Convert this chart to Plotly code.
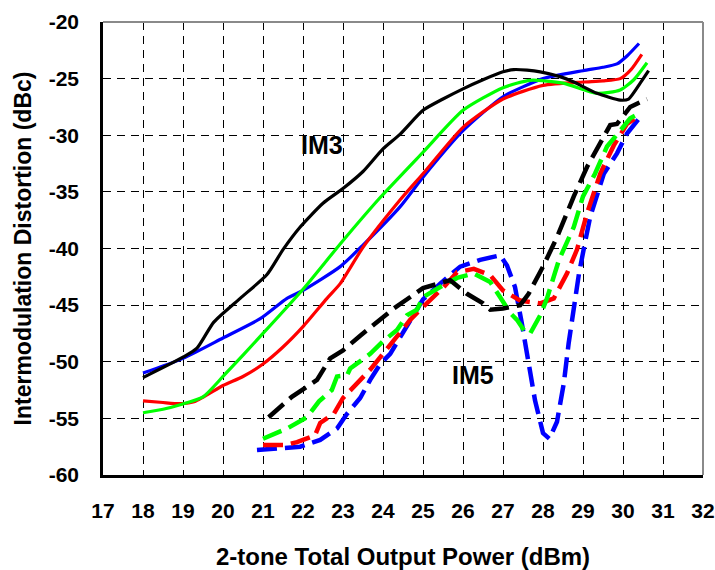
import plotly.graph_objects as go

# ---- IM3 (solid) ----
im3_black_x = [18, 19, 19.35, 19.77, 20.43, 21.1, 21.5, 21.93, 22.5, 23.0, 23.5, 24.0, 24.43, 25.0, 25.5, 26.0, 26.5, 27.0, 27.27, 27.6, 27.93, 28.4, 28.77, 29.35, 29.93, 30.14, 30.43, 30.64]
im3_black_y = [-51.4, -49.6, -48.8, -46.5, -44.4, -42.3, -40.1, -38.1, -36.0, -34.7, -33.2, -31.2, -29.9, -27.8, -26.8, -25.9, -25.1, -24.4, -24.2, -24.25, -24.4, -24.8, -25.3, -26.3, -26.9, -26.8, -25.4, -24.3]

im3_blue_x = [18, 19, 20, 20.93, 21.6, 22.0, 22.93, 23.5, 24.43, 25.0, 26.0, 27.0, 28.0, 29.0, 29.5, 29.85, 30.1, 30.4]
im3_blue_y = [-51.0, -49.7, -47.9, -46.2, -44.4, -43.7, -41.6, -39.7, -36.3, -33.7, -29.6, -26.6, -25.0, -24.3, -24.0, -23.7, -23.0, -21.9]

im3_red_x = [18, 18.5, 18.93, 19.3, 20.0, 20.5, 21.0, 21.5, 22.0, 22.6, 22.93, 23.5, 24.43, 25.0, 26.0, 27.0, 28.0, 29.0, 29.5, 29.93, 30.2, 30.47]
im3_red_y = [-53.45, -53.6, -53.7, -53.5, -52.1, -51.3, -50.2, -48.7, -46.9, -44.4, -43.1, -39.9, -35.7, -33.4, -29.3, -26.8, -25.6, -25.3, -25.2, -25.0, -24.2, -22.85]

im3_green_x = [18, 18.5, 18.93, 19.5, 20.0, 21.0, 22.0, 22.93, 23.93, 25.0, 26.0, 27.0, 27.68, 28.5, 29.35, 29.93, 30.27, 30.6]
im3_green_y = [-54.5, -54.2, -53.8, -53.1, -51.3, -47.5, -43.6, -39.6, -35.5, -31.5, -27.8, -25.8, -25.15, -25.4, -26.3, -26.0, -25.1, -23.6]

# ---- IM5 (dashed) ----
im5_black_x = [21.14, 21.72, 22.1, 22.35, 22.68, 23.0, 23.43, 23.93, 24.27, 25.0, 25.43, 25.68, 26.1, 26.5, 26.68, 27.0, 27.43, 27.64, 28.0, 28.35, 28.77, 29.1, 29.43, 29.68, 29.85, 30.18, 30.6]
im5_black_y = [-54.9, -53.1, -52.2, -51.6, -49.7, -49.0, -47.7, -46.3, -45.3, -43.5, -43.1, -42.8, -44.0, -44.85, -45.4, -45.3, -45.0, -44.0, -41.6, -39.0, -35.4, -32.8, -30.7, -29.1, -29.0, -27.5, -26.8]

im5_green_x = [21.0, 21.6, 22.1, 22.4, 22.72, 22.85, 23.1, 23.18, 23.68, 24.0, 24.35, 24.6, 24.85, 25.0, 25.43, 25.85, 26.27, 26.68, 26.93, 27.18, 27.35, 27.56, 27.68, 27.93, 28.1, 28.4, 28.77, 29.0, 29.3, 29.6, 29.93, 30.18, 30.4]
im5_green_y = [-56.8, -55.9, -54.9, -53.5, -52.5, -51.3, -51.2, -50.6, -49.3, -48.2, -47.2, -45.9, -45.4, -44.3, -43.4, -42.6, -42.2, -42.95, -44.3, -45.7, -46.3, -47.4, -47.5, -45.9, -44.4, -41.0, -38.1, -35.4, -33.4, -31.0, -29.6, -28.5, -28.1]

im5_red_x = [21.0, 21.56, 21.85, 22.3, 22.43, 22.77, 23.0, 23.35, 23.68, 24.0, 24.35, 24.68, 24.93, 25.22, 25.52, 25.85, 26.27, 26.68, 27.0, 27.43, 27.93, 28.27, 28.6, 28.85, 29.1, 29.43, 29.77, 30.1, 30.43]
im5_red_y = [-57.35, -57.35, -57.1, -56.5, -55.4, -54.6, -53.2, -51.9, -50.7, -49.3, -47.8, -46.3, -45.4, -44.4, -43.4, -42.1, -41.8, -42.35, -43.7, -44.6, -44.85, -44.4, -42.2, -40.1, -36.9, -33.4, -30.9, -29.0, -28.2]

im5_blue_x = [20.85, 21.52, 21.93, 22.43, 22.85, 23.1, 23.43, 23.68, 23.93, 24.18, 24.43, 24.68, 25.0, 25.43, 25.93, 26.43, 26.93, 27.1, 27.3, 27.47, 27.64, 27.8, 28.0, 28.16, 28.35, 28.52, 28.64, 28.77, 28.9, 29.06, 29.18, 29.52, 29.85, 30.1, 30.35, 30.43]
im5_blue_y = [-57.8, -57.65, -57.5, -56.9, -55.9, -54.6, -53.2, -51.6, -50.2, -49.3, -47.8, -46.3, -44.5, -43.1, -41.6, -41.0, -40.6, -41.5, -43.4, -46.6, -50.15, -53.4, -56.3, -56.8, -55.3, -51.9, -48.4, -45.2, -42.2, -39.3, -37.2, -33.4, -31.6, -29.85, -28.7, -28.4]

x_ticks = list(range(17, 33))
y_ticks = [-20, -25, -30, -35, -40, -45, -50, -55, -60]
y_ticktext = ["-20", "-25", "-30", "-35", "-40", "-45", "-50", "-55", "-60"]

FONT = "Liberation Sans, Arial, sans-serif"

fig = go.Figure()

im5_series = [
    ("IM5 blue", im5_blue_x, im5_blue_y, "#0000FF"),
    ("IM5 red", im5_red_x, im5_red_y, "#FF0000"),
    ("IM5 green", im5_green_x, im5_green_y, "#00FF00"),
    ("IM5 black", im5_black_x, im5_black_y, "#000000"),
]
im3_series = [
    ("IM3 blue", im3_blue_x, im3_blue_y, "#0000FF"),
    ("IM3 red", im3_red_x, im3_red_y, "#FF0000"),
    ("IM3 green", im3_green_x, im3_green_y, "#00FF00"),
    ("IM3 black", im3_black_x, im3_black_y, "#000000"),
]
for name, xs, ys, c in im5_series:
    fig.add_trace(go.Scatter(x=xs, y=ys, mode="lines", name=name,
                             line=dict(color=c, width=4.5, dash="20px,8px")))
for name, xs, ys, c in im3_series:
    fig.add_trace(go.Scatter(x=xs, y=ys, mode="lines", name=name,
                             line=dict(color=c, width=3.2, shape="spline", smoothing=0.6)))

fig.add_annotation(x=22.48, y=-30.9, text="<b>IM3</b>", showarrow=False,
                   font=dict(family=FONT, size=25, color="black"))
fig.add_annotation(x=26.26, y=-51.2, text="<b>IM5</b>", showarrow=False,
                   font=dict(family=FONT, size=25, color="black"))

# top and right border in gray
fig.add_shape(type="line", xref="paper", yref="paper", x0=0, x1=1, y0=1, y1=1,
              line=dict(color="#8a8a8a", width=2))
fig.add_shape(type="line", xref="paper", yref="paper", x0=1, x1=1, y0=0, y1=1,
              line=dict(color="#8a8a8a", width=2))

fig.update_layout(
    width=715, height=570,
    margin=dict(l=103, r=12, t=22, b=95),
    paper_bgcolor="white", plot_bgcolor="white",
    showlegend=False,
    font=dict(family=FONT, color="black"),
    xaxis=dict(
        range=[17, 32], tickvals=x_ticks, ticktext=[f"<b>{v}</b>" for v in x_ticks],
        showgrid=True, gridcolor="black", gridwidth=1, griddash="8px,6px",
        showline=True, linecolor="black", linewidth=2.5, automargin=False,
        zeroline=False, ticks="", tickfont=dict(family=FONT, size=21, color="black"),
        ticklabelstandoff=15,
        title=dict(text="<b>2-tone Total Output Power (dBm)</b>",
                   font=dict(family=FONT, size=24, color="black"), standoff=28),
    ),
    yaxis=dict(
        range=[-60, -20], tickvals=y_ticks, ticktext=[f"<b>{t}</b>" for t in y_ticktext],
        showgrid=True, gridcolor="black", gridwidth=1, griddash="8px,6px",
        showline=True, linecolor="black", linewidth=2.5, automargin=False,
        zeroline=False, ticks="", tickfont=dict(family=FONT, size=21, color="black"),
        ticklabelstandoff=17,
        title=dict(text="<b>Intermodulation Distortion (dBc)</b>",
                   font=dict(family=FONT, size=23, color="black"), standoff=11),
    ),
)

fig.write_html("out.html")
